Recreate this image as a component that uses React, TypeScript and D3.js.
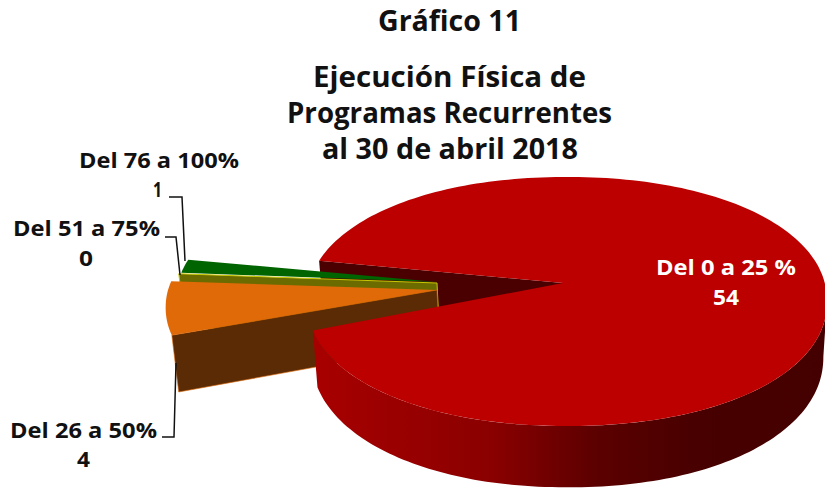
import * as d3 from 'd3';

const categories = ['Del 0 a 25 %', 'Del 26 a 50%', 'Del 51 a 75%', 'Del 76 a 100%'];
const values = [54, 4, 0, 1];
const titleLines = ['Gráfico 11', 'Ejecución Física de', 'Programas Recurrentes', 'al 30 de abril 2018'];

const width = 825;
const height = 489;
const font = '"Open Sans", "Liberation Sans", sans-serif';

// outline of the top face and the point the slices meet in (off centre, the chart has perspective)
const cx = 567;
const cy = 301.5;
const rx = 260;
const ry = 124.5;
const fullness = 0.95;
const apex = { x: 563, y: 283 };

const pie = d3.pie<number>().sort(null).startAngle((288 * Math.PI) / 180).endAngle((648 * Math.PI) / 180);
const arcs = pie(values);

const bulge = (v: number) => Math.sign(v) * Math.pow(Math.abs(v), fullness);

// d3.pie angles start at 12 o'clock, top face is a projected disc
function rim(a: number, ox = apex.x, oy = apex.y, kx = 1, ky = 1): [number, number] {
  const t = a - Math.PI / 2;
  return [ox + kx * (cx + rx * bulge(Math.cos(t)) - apex.x), oy + ky * (cy + ry * bulge(Math.sin(t)) - apex.y)];
}

// vertical edges lean in a little and get longer towards the front
function drop([x, y]: [number, number]): [number, number] {
  return [x + (600 - x) * 0.016, y + 55 + (y - 300) * 0.05];
}

function arcPoints(a0: number, a1: number, ox?: number, oy?: number, kx?: number, ky?: number) {
  const n = Math.max(2, Math.ceil(Math.abs(a1 - a0) * 40));
  return d3.range(n + 1).map((i) => rim(a0 + ((a1 - a0) * i) / n, ox, oy, kx, ky));
}

const line = d3.line();
const closed = (pts: [number, number][]) => line(pts) + 'Z';

function topFace(a0: number, a1: number, ox = apex.x, oy = apex.y, kx = 1, ky = 1) {
  return closed([[ox, oy], ...arcPoints(a0, a1, ox, oy, kx, ky)]);
}

function wall(a: number, ox = apex.x, oy = apex.y, kx = 1, ky = 1) {
  const p0: [number, number] = [ox, oy];
  const p1 = rim(a, ox, oy, kx, ky);
  return closed([p0, p1, drop(p1), drop(p0)]);
}

const [big, orange, zero, green] = arcs;

// big slice outer side, only the part facing us
const frontTop = arcPoints(2.5 * Math.PI, big.endAngle);
const rimSide = closed([...frontTop, ...frontTop.map(drop).reverse()]);

const orangeAt = { x: 437, y: 290, kx: 1.06, ky: 0.95 };
const zeroAt = { x: 437, y: 283, kx: 1.03, ky: 1 };
const greenAt = { x: 437, y: 282, kx: 1.02, ky: 1 };

const rimShade = d3
  .scaleLinear<string>()
  .domain([0, 0.35, 0.55, 0.75, 1])
  .range(['#a80000', '#8a0000', '#5c0000', '#480000', '#440000']);

const leaders: [number, number][][] = [
  [[169, 197], [182, 197], [185, 261]],
  [[165, 237], [176, 237], [180, 275]],
  [[162, 437], [174, 437], [176, 363]],
];

const titleLayout = [
  { x1: 378, x2: 521, y: 31, size: 29 },
  { x1: 313, x2: 586, y: 87, size: 29 },
  { x1: 287, x2: 612, y: 123, size: 29 },
  { x1: 322, x2: 578, y: 159, size: 29 },
];

const labelLayout = [
  { x1: 656, x2: 796, y: 275, x3: 713, x4: 739, y2: 305, fill: '#fff' },
  { x1: 10, x2: 157, y: 438, x3: 77, x4: 90, y2: 467, fill: '#111' },
  { x1: 13, x2: 160, y: 236, x3: 79, x4: 93, y2: 266, fill: '#111' },
  { x1: 79, x2: 239, y: 168, x3: 153, x4: 162, y2: 197, fill: '#111' },
];

function Txt({ x1, x2, y, size, fill, children }: any) {
  return (
    <text
      x={x1}
      y={y}
      textLength={x2 - x1}
      lengthAdjust="spacingAndGlyphs"
      fontFamily={font}
      fontWeight={700}
      fontSize={size}
      fill={fill}
    >
      {children}
    </text>
  );
}

export default function App() {
  return (
    <svg width={width} height={height} style={{ position: 'absolute', left: 0, top: 0, background: '#fff' }}>
      <defs>
        <linearGradient id="rimGrad" gradientUnits="userSpaceOnUse" x1={313} x2={825} y1={0} y2={0}>
          {d3.range(0, 1.01, 0.05).map((o) => (
            <stop key={o} offset={o} stopColor={rimShade(o)} />
          ))}
        </linearGradient>
      </defs>

      <path d={wall(big.startAngle)} fill="#4a0000" />

      <path d={topFace(green.startAngle, green.endAngle, greenAt.x, greenAt.y, greenAt.kx, greenAt.ky)} fill="#006400" />
      <path d={wall(zero.startAngle, zeroAt.x, zeroAt.y, zeroAt.kx, zeroAt.ky)} fill="#6b6b00" stroke="#c8c800" strokeWidth={1} />

      <path d={wall(orange.startAngle, orangeAt.x, orangeAt.y, orangeAt.kx, orangeAt.ky)} fill="#5a2b05" stroke="#e06a08" strokeWidth={0.6} />
      <path d={topFace(orange.startAngle, orange.endAngle, orangeAt.x, orangeAt.y, orangeAt.kx, orangeAt.ky)} fill="#e06a08" />

      <path d={rimSide} fill="url(#rimGrad)" />
      <path d={topFace(big.startAngle, big.endAngle)} fill="#bc0000" />

      {leaders.map((l, i) => (
        <path key={i} d={line(l) as string} fill="none" stroke="#111" strokeWidth={1.5} />
      ))}

      {titleLines.map((t, i) => (
        <Txt key={t} {...titleLayout[i]} fill="#111">
          {t}
        </Txt>
      ))}

      {categories.map((c, i) => {
        const p = labelLayout[i];
        return (
          <g key={c}>
            <Txt x1={p.x1} x2={p.x2} y={p.y} size={22} fill={p.fill}>
              {c}
            </Txt>
            <Txt x1={p.x3} x2={p.x4} y={p.y2} size={22} fill={p.fill}>
              {values[i]}
            </Txt>
          </g>
        );
      })}
    </svg>
  );
}
